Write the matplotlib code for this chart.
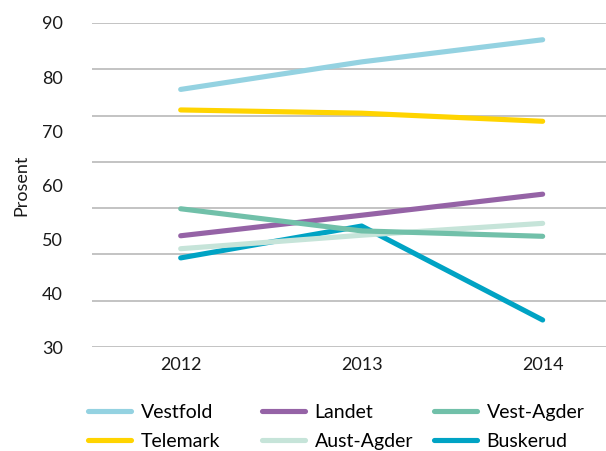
import numpy as np
import matplotlib.pyplot as plt

plt.rcParams["font.family"] = ["Lato", "DejaVu Sans"]

years = [2012, 2013, 2014]
vestfold = [77.7, 82.8, 86.9]
telemark = [73.9, 73.3, 71.8]
landet = [50.6, 54.4, 58.3]
vest_agder = [55.6, 51.5, 50.5]
aust_agder = [48.2, 50.7, 52.9]
buskerud = [46.5, 52.4, 35.0]

series = {
    "Vestfold": (vestfold, "#94d2e1"),
    "Telemark": (telemark, "#ffd400"),
    "Landet": (landet, "#9563a6"),
    "Aust-Agder": (aust_agder, "#c6e4d9"),
    "Vest-Agder": (vest_agder, "#71c0a9"),
    "Buskerud": (buskerud, "#00a3c4"),
}
draw_order = ["Buskerud", "Aust-Agder", "Landet", "Vest-Agder", "Telemark", "Vestfold"]

W, H = 606, 451
fig = plt.figure(figsize=(W / 100, H / 100), dpi=100)
ax = fig.add_axes([92 / W, 1 - 347 / H, 1 - 92 / W, (347 - 23) / H])

y_min, y_max = 30, 90
# background rules are spaced evenly over the value range (7 bands)
for g in np.linspace(y_min, y_max, 8):
    ax.axhline(g, color="#b3b3b3", lw=1.1, zorder=1)

lines = {}
for name in draw_order:
    vals, col = series[name]
    (ln,) = ax.plot(years, vals, color=col, lw=3.7, solid_capstyle="round", zorder=3)
    lines[name] = ln

ax.set_xlim(2011.51, 2014.35)
ax.set_ylim(y_min, y_max)
ax.set_xticks(years)
ax.set_xticklabels([str(y) for y in years])
ax.set_yticks(range(30, 91, 10))
ax.tick_params(length=0, labelsize=13, colors="#1a1a1a")
ax.tick_params(axis="y", pad=21)
ax.tick_params(axis="x", pad=7)
for s in ax.spines.values():
    s.set_visible(False)
ax.set_ylabel("Prosent", fontsize=13, color="#1a1a1a")
ax.yaxis.set_label_coords((29 - 92) / 514, 0.5)

# legend: three columns of two entries each
legend_cols = [["Vestfold", "Telemark"], ["Landet", "Aust-Agder"], ["Vest-Agder", "Buskerud"]]
col_x = [88, 262, 434]
for names, x in zip(legend_cols, col_x):
    fig.legend([lines[n] for n in names], names, loc="upper left",
               bbox_to_anchor=(x / W, 1 - 404 / H), frameon=False,
               fontsize=14, handlelength=2.2, handletextpad=0.5,
               labelspacing=0.62, borderpad=0, borderaxespad=0)

fig.savefig("out.png", dpi=100)
